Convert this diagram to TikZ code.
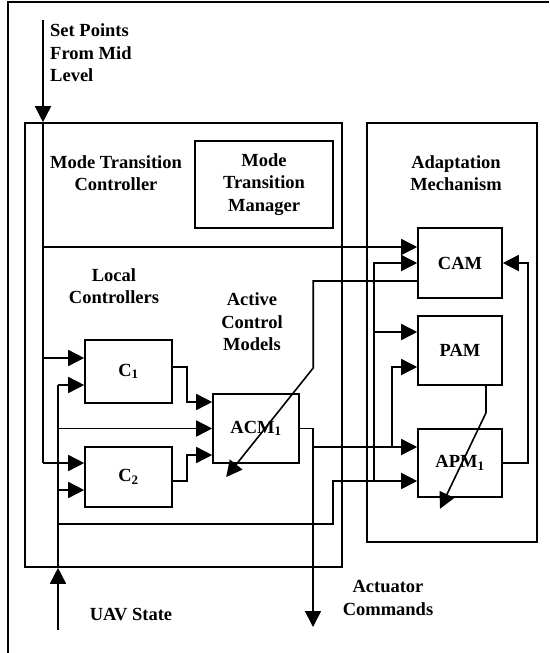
\documentclass[tikz,border=0pt]{standalone}
\usepackage{fontspec}
\setmainfont{Liberation Serif}
\usetikzlibrary{arrows.meta,positioning,calc}
\newcommand{\lblfont}{\fontsize{18.5}{22.5}\selectfont\bfseries}
\tikzset{
  unit/.style={rectangle, draw=black, line width=1.6pt, inner sep=0pt,
               align=center, font=\lblfont},
  caption/.style={align=center, inner sep=0pt, font=\lblfont},
  wire/.style={line width=1.6pt},
  arr/.style={-{Triangle[length=16pt,width=16pt]}, line width=1.6pt},
}

\begin{document}
\begin{tikzpicture}[x=1pt,y=-1pt]
  \useasboundingbox (0,0) rectangle (549,653);
  \draw[wire] (549,2) -- (8,2) -- (8,653);

  % boxes
  \node[unit, minimum width=317pt, minimum height=444pt] (mtc)   at (183.5,345) {};
  \node[unit, minimum width=138pt, minimum height=87pt]  (mtm)   at (264,184.5) {Mode\\Transition\\Manager};
  \node[unit, minimum width=170pt, minimum height=419pt] (adapt) at (452,332.5) {};
  \node[unit, minimum width=84pt,  minimum height=70pt]  (cam)   at (460,263)   {CAM};
  \node[unit, minimum width=84pt,  minimum height=69pt]  (pam)   at (460,350.5) {PAM};
  \node[unit, minimum width=84pt,  minimum height=68pt]  (apm)   at (460,463)   {APM\textsubscript{1}};
  \node[unit, minimum width=87pt,  minimum height=63pt]  (c1)    at (128.5,371.5) {C\textsubscript{1}};
  \node[unit, minimum width=87pt,  minimum height=60pt]  (c2)    at (128.5,477) {C\textsubscript{2}};
  \node[unit, minimum width=86pt,  minimum height=69pt]  (acm)   at (256,428.5) {ACM\textsubscript{1}};

  % captions
  \node[caption, anchor=west, align=left] (setlbl) at (50,53) {Set Points\\From Mid\\Level};
  \node[caption] (mtclbl)   at (116,173) {Mode Transition\\Controller};
  \node[caption] (locallbl) at (114,286) {Local\\Controllers};
  \node[caption] (acmlbl)   at (252,322) {Active\\Control\\Models};
  \node[caption] (adaptlbl) at (456,173) {Adaptation\\Mechanism};
  \node[caption] (uavlbl)   at (131,615) {UAV State};
  \node[caption] (actlbl)   at (388,598) {Actuator\\Commands};

  % ports
  \coordinate (sp)   at (43,20);
  \coordinate (uav)  at (58,630);
  \coordinate (act)  at (313,627);
  \coordinate (ubend) at (333,524);
  \coordinate (c1a)  at ($(c1.west)+(0,-13.5)$);
  \coordinate (c1b)  at ($(c1.west)+(0,13.5)$);
  \coordinate (c1o)  at ($(c1.east)+(0,-4.5)$);
  \coordinate (c2a)  at ($(c2.west)+(0,-14)$);
  \coordinate (c2b)  at ($(c2.west)+(0,13)$);
  \coordinate (c2o)  at ($(c2.east)+(0,4)$);
  \coordinate (acma) at ($(acm.west)+(0,-26.5)$);
  \coordinate (acmc) at ($(acm.west)+(0,26.5)$);
  \coordinate (cama) at ($(cam.west)+(0,-16)$);
  \coordinate (camo) at ($(cam.west)+(0,18)$);
  \coordinate (pama) at ($(pam.west)+(0,-18.5)$);
  \coordinate (pamb) at ($(pam.west)+(0,16.5)$);
  \coordinate (pamo) at ($(pam.south)+(26,0)$);
  \coordinate (apma) at ($(apm.west)+(0,-16)$);
  \coordinate (apmb) at ($(apm.west)+(0,18)$);
  \coordinate (pbend) at ($(apma)+(-25,0)$);
  \coordinate (cbend) at ($(apmb)+(-43,0)$);

  % set points from mid level
  \draw[arr] (sp) -- (sp |- mtc.north);
  \draw[wire] (sp |- mtc.north) -- (sp |- c2a);
  \draw[arr] (sp |- cama) -- (cama);
  \draw[arr] (sp |- c1a) -- (c1a);
  \draw[arr] (sp |- c2a) -- (c2a);

  % uav state
  \draw[arr] (uav) -- (uav |- mtc.south);
  \draw[wire] (uav |- mtc.south) -- (uav |- c1b);
  \draw[arr] (uav |- c1b) -- (c1b);
  \draw[arr] (uav |- acm.west) -- (acm.west);
  \draw[arr] (uav |- c2b) -- (c2b);
  \draw[arr] (uav |- ubend) -- (ubend) |- (apmb);

  % controllers into acm
  \draw[arr] (c1o) -- ++(14,0) |- (acma);
  \draw[arr] (c2o) -- ++(14,0) |- (acmc);

  % acm output
  \draw[arr] (acm.east) -| (act);
  \draw[arr] (act |- apma) -- (apma);
  \draw[arr] (pbend) |- (pamb);
  \draw[arr] (cbend) |- (cam.west);
  \draw[arr] (cbend |- pama) -- (pama);

  % adaptation
  \draw[arr] (camo) -- ++(-104,0) -- ++(0,87) -- ++(-87,109);
  \draw[arr] (pamo) -- ++(0,27) -- ++(-46,96);
  \draw[arr] (apm.east) -- ++(25,0) |- (cam.east);
\end{tikzpicture}
\end{document}
